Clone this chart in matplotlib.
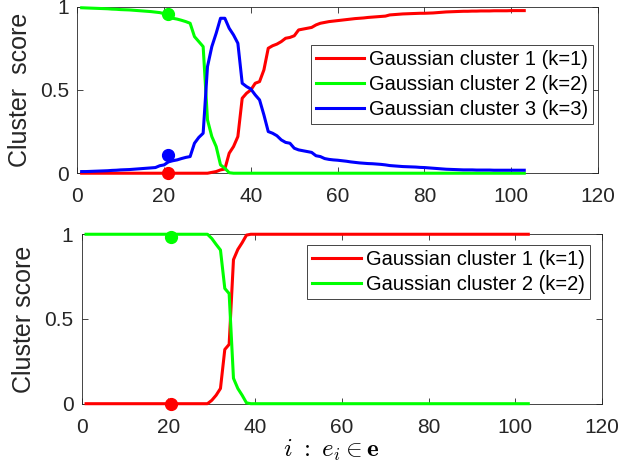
import numpy as np
import matplotlib
matplotlib.use("Agg")
import matplotlib.pyplot as plt

plt.rcParams["font.family"] = ["Liberation Sans", "DejaVu Sans"]
plt.rcParams["mathtext.fontset"] = "cm"

# ---- top panel: 3 clusters, samples 1..103 ----
top_k1 = [0.0] * 30 + [
    0.005, 0.01, 0.02, 0.025, 0.12, 0.16, 0.22, 0.45, 0.48, 0.50,
    0.54, 0.55, 0.62, 0.75, 0.765, 0.775, 0.79, 0.81, 0.815, 0.825,
    0.86, 0.865, 0.87, 0.875, 0.89, 0.90, 0.905, 0.91, 0.913, 0.916,
    0.919, 0.922, 0.925, 0.928, 0.93, 0.932, 0.935, 0.937, 0.939, 0.941,
    0.943, 0.95, 0.952, 0.954, 0.956, 0.957, 0.958, 0.959, 0.96, 0.96,
    0.961, 0.962, 0.964, 0.966, 0.968, 0.969, 0.970, 0.971, 0.972, 0.972,
    0.973, 0.973, 0.974, 0.974, 0.974, 0.975, 0.975, 0.975, 0.975, 0.976,
    0.976, 0.976, 0.976]
top_k2 = [
    0.993, 0.992, 0.991, 0.990, 0.989, 0.988, 0.987, 0.985, 0.984, 0.982,
    0.981, 0.980, 0.978, 0.976, 0.974, 0.972, 0.970, 0.967, 0.964, 0.958,
    0.940, 0.930, 0.925, 0.918, 0.910, 0.900, 0.820, 0.790, 0.760, 0.320,
    0.220, 0.160, 0.050, 0.030, 0.003] + [0.0] * 68
top_k3 = [
    0.010, 0.010, 0.011, 0.012, 0.013, 0.014, 0.015, 0.017, 0.018, 0.020,
    0.021, 0.022, 0.024, 0.026, 0.028, 0.030, 0.032, 0.034, 0.045, 0.050,
    0.068, 0.075, 0.080, 0.088, 0.095, 0.100, 0.180, 0.215, 0.240, 0.640,
    0.760, 0.840, 0.930, 0.930, 0.870, 0.830, 0.780, 0.540, 0.520, 0.505,
    0.470, 0.440, 0.350, 0.250, 0.240, 0.225, 0.200, 0.185, 0.180, 0.150,
    0.140, 0.135, 0.130, 0.125, 0.105, 0.100, 0.088, 0.083, 0.080, 0.078,
    0.075, 0.072, 0.068, 0.065, 0.062, 0.060, 0.058, 0.057, 0.055, 0.053,
    0.050, 0.046, 0.044, 0.042, 0.040, 0.039, 0.038, 0.037, 0.035, 0.034,
    0.032, 0.030, 0.028, 0.026, 0.024, 0.023, 0.022, 0.021, 0.020, 0.020,
    0.020, 0.019, 0.019, 0.019, 0.019, 0.018, 0.018, 0.018, 0.018, 0.018,
    0.018, 0.018, 0.018]

# ---- bottom panel: 2 clusters ----
bot_k1 = [0.0] * 29 + [0.02, 0.05, 0.09, 0.32, 0.35, 0.85, 0.91, 0.95, 0.995] + [1.0] * 65
bot_k2 = [1.0] * 29 + [0.975, 0.94, 0.907, 0.68, 0.65, 0.15, 0.09, 0.05, 0.005] + [0.0] * 65

top_x = np.arange(1, len(top_k1) + 1)
bot_x = np.arange(1, len(bot_k1) + 1)

# highlighted sample
top_dot_x = 21
top_dots = [0.0, 0.955, 0.11]
bot_dot_x = 20.5
bot_dots = [0.0, 0.985]

colors = ["#ff0000", "#00ff00", "#0000ff"]
top_labels = ["Gaussian cluster 1 (k=1)", "Gaussian cluster 2 (k=2)", "Gaussian cluster 3 (k=3)"]
bot_labels = top_labels[:2]

fig = plt.figure(figsize=(6.21, 4.72), dpi=100)
ax1 = fig.add_axes([0.1245, 0.633, 0.8385, 0.353])
ax2 = fig.add_axes([0.1316, 0.1447, 0.8378, 0.359])

lw = 2.2
for y, c, lab in zip([top_k1, top_k2, top_k3], colors, top_labels):
    ax1.plot(top_x, y, color=c, lw=lw, label=lab, clip_on=False, zorder=3)
for y, c in zip(top_dots, colors):
    ax1.plot(top_dot_x, y, "o", color=c, ms=8.5, clip_on=False, zorder=4)

for y, c, lab in zip([bot_k1, bot_k2], colors, bot_labels):
    ax2.plot(bot_x, y, color=c, lw=lw, label=lab, clip_on=False, zorder=3)
for y, c in zip(bot_dots, colors):
    ax2.plot(bot_dot_x, y, "o", color=c, ms=8.5, clip_on=False, zorder=4)

for ax in (ax1, ax2):
    ax.set_xlim(0, 120)
    ax.set_ylim(0, 1)
    ax.set_xticks(range(0, 121, 20))
    ax.set_yticks([0, 0.5, 1])
    ax.set_yticklabels(["0", "0.5", "1"])
    ax.tick_params(direction="in", length=4, width=0.6, top=True, right=True,
                   labelsize=15, colors="#262626")
    ax.tick_params(axis="x", pad=10)
    ax.tick_params(axis="y", pad=6)
    for s in ax.spines.values():
        s.set_color("#262626")
        s.set_linewidth(0.6)

ax1.set_ylabel("Cluster  score", fontsize=18, labelpad=6, color="#262626")
ax2.set_ylabel("Cluster score", fontsize=18, labelpad=6, color="#262626")
ax2.set_xlabel(r"$i\ :\ e_i \in \mathbf{e}$", fontsize=18, labelpad=5)
ax2.xaxis.set_label_coords(0.48, -0.2, transform=ax2.transAxes)
ax2.xaxis.label.set_verticalalignment("top")

leg_kw = dict(fontsize=14.5, handlelength=2.4, handletextpad=0.25, labelspacing=0.3,
              borderpad=0.25, borderaxespad=0, fancybox=False, framealpha=1,
              edgecolor="#262626", loc="upper right")
l1 = ax1.legend(bbox_to_anchor=(0.991, 0.770), **leg_kw)
l2 = ax2.legend(bbox_to_anchor=(0.976, 0.937), **leg_kw)
for l in (l1, l2):
    l.get_frame().set_linewidth(0.6)

fig.savefig("out.png", dpi=100)
